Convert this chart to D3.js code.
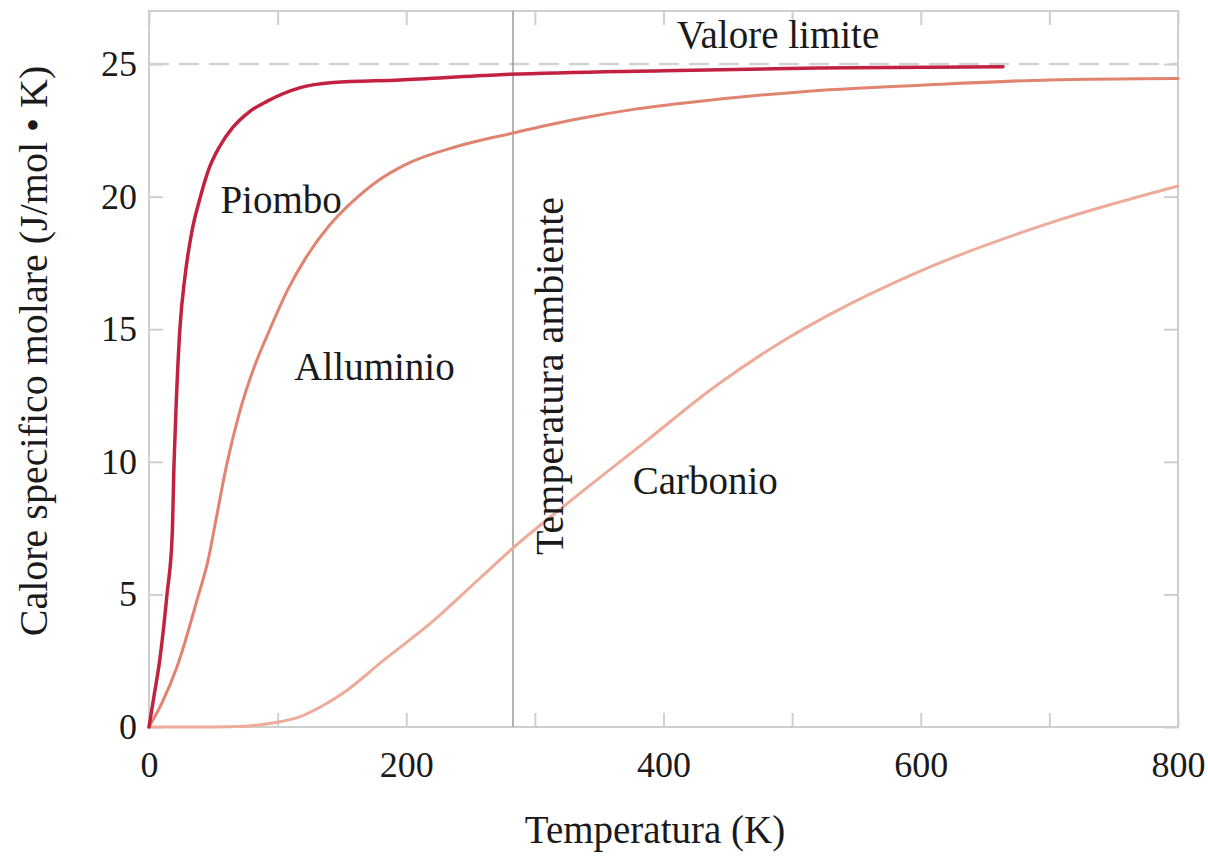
<!DOCTYPE html>
<html>
<head>
<meta charset="utf-8">
<script src="https://cdn.jsdelivr.net/npm/d3@7"></script>
<style>
  html, body { margin: 0; padding: 0; background: #fff; }
  svg { display: block; }
  text { font-family: "Liberation Serif", "Times New Roman", serif; fill: #1a1a1a; }
</style>
</head>
<body>
<svg id="chart" width="1208" height="856"></svg>
<script>
// ---- Data ----
const xTicks = [0, 100, 200, 300, 400, 500, 600, 700, 800];
const xTickLabels = ["0", "", "200", "", "400", "", "600", "", "800"];
const yTicks = [0, 5, 10, 15, 20, 25];
const yTickLabels = ["0", "5", "10", "15", "20", "25"];

const leadT = [0, 4, 8, 14, 18, 19.5, 21, 24, 28, 33, 40, 47, 55, 65, 78, 92, 117, 143, 195, 273, 400, 520, 664];
const leadC = [0, 1.2, 2.4, 5, 7.2, 10, 12, 15, 17, 18.6, 20, 21.1, 21.9, 22.6, 23.2, 23.6, 24.1, 24.3, 24.4, 24.6, 24.75, 24.85, 24.9];

const alT = [0, 10, 22, 38, 46, 52, 60, 70, 82, 94, 108, 122, 140, 158, 178, 199, 240, 283, 330, 378, 420, 506, 600, 700, 800];
const alC = [0, 0.9, 2.3, 4.9, 6.3, 7.8, 9.8, 11.8, 13.6, 15.0, 16.5, 17.7, 18.9, 19.8, 20.6, 21.2, 21.9, 22.4, 22.9, 23.3, 23.55, 23.95, 24.2, 24.4, 24.45];

const cT = [0, 50, 75, 96, 117, 135, 151, 182, 221, 257, 283, 327, 387, 439, 491, 529, 600, 700, 800];
const cC = [0, 0, 0.03, 0.15, 0.38, 0.8, 1.28, 2.5, 4.0, 5.6, 6.75, 8.5, 10.8, 12.8, 14.5, 15.55, 17.2, 19.0, 20.4];

const limitValue = 25;
const roomTemperature = 283;

const seriesNames = ["Piombo", "Alluminio", "Carbonio"];
const seriesColors = ["#c2223f", "#e08470", "#eeab9a"];
const seriesWidths = [3.5, 3, 3];

// ---- Layout ----
const svg = d3.select("#chart");
const pLeft = 149, pRight = 1178, pTop = 11, pBottom = 727;

const x = d3.scaleLinear().domain([0, 800]).range([pLeft, pRight]);
const y = d3.scaleLinear().domain([0, 27]).range([pBottom, pTop]);

const frameColor = "#cfcfcf";

// Frame
svg.append("rect")
  .attr("x", pLeft).attr("y", pTop)
  .attr("width", pRight - pLeft).attr("height", pBottom - pTop)
  .attr("fill", "none").attr("stroke", frameColor).attr("stroke-width", 2);

// Axes
function styleAxis(g) {
  g.select(".domain").remove();
  g.selectAll(".tick line").attr("stroke", frameColor).attr("stroke-width", 2);
  g.selectAll(".tick text").attr("font-size", 36).attr("fill", "#1a1a1a")
    .attr("font-family", "Liberation Serif, Times New Roman, serif");
}

svg.append("g").attr("transform", `translate(0,${pBottom})`)
  .call(d3.axisBottom(x).tickValues(xTicks).tickSize(-14).tickPadding(24)
    .tickFormat((d, i) => xTickLabels[i]))
  .call(styleAxis);

svg.append("g").attr("transform", `translate(0,${pTop})`)
  .call(d3.axisTop(x).tickValues(xTicks).tickSize(-14).tickFormat(""))
  .call(styleAxis);

svg.append("g").attr("transform", `translate(${pLeft},0)`)
  .call(d3.axisLeft(y).tickValues(yTicks).tickSize(-14).tickPadding(12)
    .tickFormat((d, i) => yTickLabels[i]))
  .call(styleAxis);

svg.append("g").attr("transform", `translate(${pRight},0)`)
  .call(d3.axisRight(y).tickValues(yTicks).tickSize(-14).tickFormat(""))
  .call(styleAxis);

// Limit dashed line
svg.append("line")
  .attr("x1", x(0)).attr("x2", x(800))
  .attr("y1", y(limitValue)).attr("y2", y(limitValue))
  .attr("stroke", "#d2d2d2").attr("stroke-width", 2.5)
  .attr("stroke-dasharray", "20,10");

// Room temperature line
svg.append("line")
  .attr("x1", x(roomTemperature)).attr("x2", x(roomTemperature))
  .attr("y1", pTop).attr("y2", pBottom)
  .attr("stroke", "#9a9a9a").attr("stroke-width", 1.5);

// Curves
const line = d3.line().x(d => x(d[0])).y(d => y(d[1])).curve(d3.curveMonotoneX);
const seriesData = [
  d3.zip(leadT, leadC),
  d3.zip(alT, alC),
  d3.zip(cT, cC)
];
[2, 1, 0].forEach(i => {
  svg.append("path")
    .datum(seriesData[i])
    .attr("d", line)
    .attr("fill", "none")
    .attr("stroke", seriesColors[i])
    .attr("stroke-width", seriesWidths[i])
    .attr("stroke-linejoin", "round")
    .attr("stroke-linecap", "round");
});

// Labels
const fs = 39;
svg.append("text").attr("x", x(55.5)).attr("y", y(19.4)).attr("font-size", fs).text(seriesNames[0]);
svg.append("text").attr("x", x(113)).attr("y", y(13.1)).attr("font-size", fs).text(seriesNames[1]);
svg.append("text").attr("x", x(376)).attr("y", y(8.8)).attr("font-size", fs).text(seriesNames[2]);

svg.append("text").attr("x", x(489)).attr("y", 48).attr("text-anchor", "middle")
  .attr("font-size", fs).text("Valore limite");

svg.append("text")
  .attr("transform", `translate(563,376) rotate(-90)`)
  .attr("text-anchor", "middle").attr("font-size", 40)
  .text("Temperatura ambiente");

// Axis titles
svg.append("text").attr("x", 655).attr("y", 843).attr("text-anchor", "middle")
  .attr("font-size", fs).text("Temperatura (K)");

svg.append("text")
  .attr("transform", `translate(47,351) rotate(-90)`)
  .attr("text-anchor", "middle").attr("font-size", 40)
  .text("Calore specifico molare (J/mol • K)");
</script>
</body>
</html>
